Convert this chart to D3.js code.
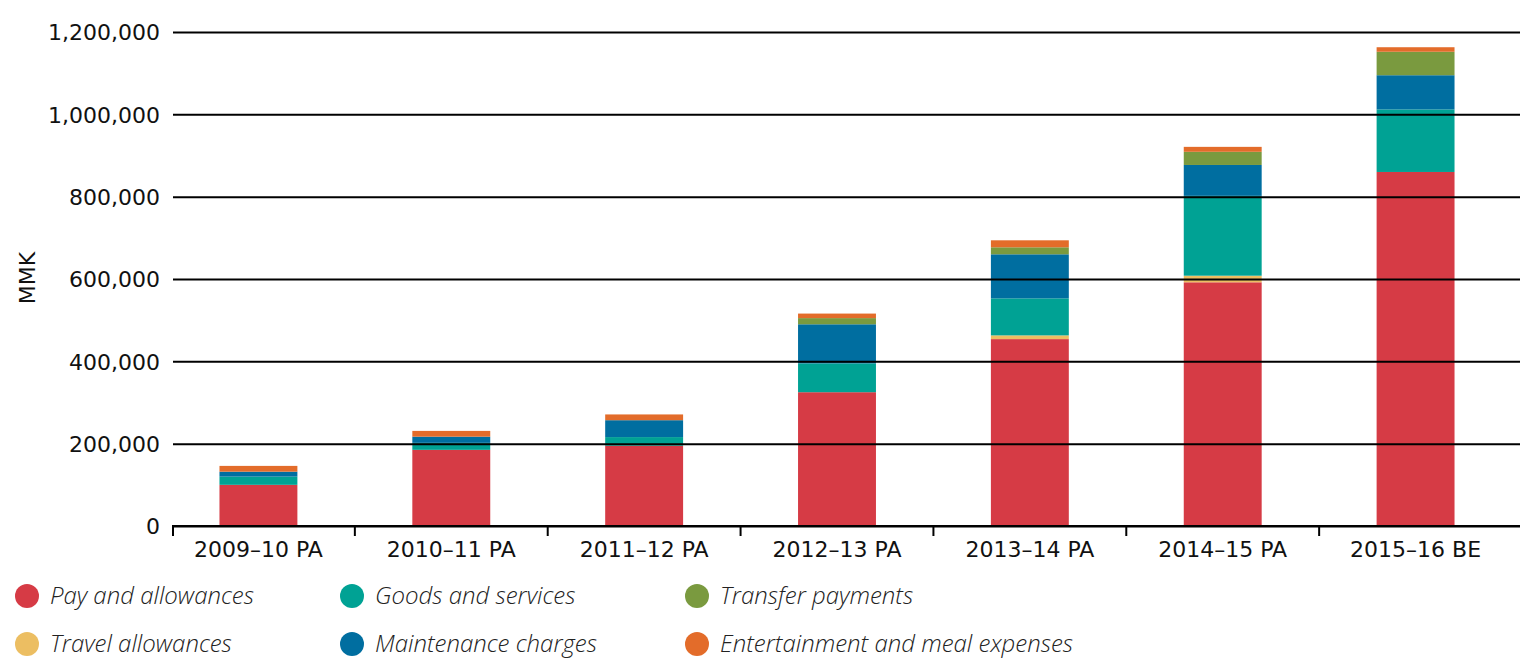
<!DOCTYPE html>
<html>
<head>
<meta charset="utf-8">
<script src="https://cdn.jsdelivr.net/npm/d3@7/dist/d3.min.js"></script>
<style>
  html, body { margin: 0; padding: 0; background: #fff; }
  svg { display: block; }
  .tick text, .axis-label { font-family: "DejaVu Sans", sans-serif; font-size: 22px; fill: #111; }
  .legend text { font-family: "Open Sans", sans-serif; font-style: italic; font-weight: 300; font-size: 24px; fill: #222; }
</style>
</head>
<body>
<svg id="chart" width="1520" height="659"></svg>
<script>
// Fiscal years and expenditure by category (MMK)
const categories = ["2009–10 PA", "2010–11 PA", "2011–12 PA", "2012–13 PA", "2013–14 PA", "2014–15 PA", "2015–16 BE"];
const payAndAllowances = [100000, 185000, 195000, 325000, 454000, 592000, 860000];
const travelAllowances = [0, 0, 0, 0, 9000, 16000, 0];
const goodsAndServices = [20000, 17000, 21000, 70000, 90000, 194000, 152000];
const maintenanceCharges = [12000, 15000, 41000, 95000, 107000, 75000, 83000];
const transferPayments = [0, 0, 0, 15000, 17000, 32000, 57000];
const entertainment = [14000, 14000, 14000, 11000, 17000, 12000, 11000];
const yTicks = [0, 200000, 400000, 600000, 800000, 1000000, 1200000];

const seriesNames = ["Pay and allowances", "Travel allowances", "Goods and services",
  "Maintenance charges", "Transfer payments", "Entertainment and meal expenses"];
const seriesValues = [payAndAllowances, travelAllowances, goodsAndServices,
  maintenanceCharges, transferPayments, entertainment];
const colors = ["#d63b45", "#ecbe62", "#00a294", "#006ea0", "#7a9a3f", "#e36c2a"];

const rows = categories.map((c, i) => {
  const r = { category: c };
  seriesNames.forEach((s, j) => r[s] = seriesValues[j][i]);
  return r;
});

const svg = d3.select("#chart");
const plotLeft = 173, plotRight = 1520, plotTop = 32, plotBottom = 526;

const x = d3.scaleBand().domain(categories).range([162, 1512])
  .paddingInner(0.596).paddingOuter(0.298);
const y = d3.scaleLinear().domain([0, 1200000]).range([plotBottom, plotTop]);
const color = d3.scaleOrdinal().domain(seriesNames).range(colors);

const stacked = d3.stack().keys(seriesNames)(rows);

// Stacked bars
svg.append("g").selectAll("g").data(stacked).join("g")
  .attr("fill", d => color(d.key))
  .selectAll("rect").data(d => d).join("rect")
  .attr("x", d => x(d.data.category))
  .attr("width", x.bandwidth())
  .attr("y", d => y(d[1]))
  .attr("height", d => y(d[0]) - y(d[1]));

// Value axis with full-width gridlines
const yAxis = svg.append("g").attr("transform", `translate(${plotLeft},0)`)
  .call(d3.axisLeft(y).tickValues(yTicks).tickFormat(d3.format(","))
    .tickSizeInner(-(plotRight - plotLeft)).tickSizeOuter(0).tickPadding(13));
yAxis.select(".domain").remove();
yAxis.selectAll(".tick line").attr("stroke", "#000").attr("stroke-width", 2);
yAxis.selectAll(".tick text").attr("dy", "0.36em");

// Category axis: baseline, boundary ticks and labels
const xAxis = svg.append("g").attr("transform", `translate(0,${plotBottom})`)
  .call(d3.axisBottom(x).tickSize(0).tickPadding(15));
xAxis.select(".domain").remove();
xAxis.selectAll(".tick text").attr("dy", "0.71em");
const step = x.step();
const boundaries = [plotLeft].concat(categories.slice(0, -1).map(c => x(c) + x.bandwidth() + (step - x.bandwidth()) / 2));
xAxis.selectAll("line.bound").data(boundaries).join("line")
  .attr("class", "bound")
  .attr("x1", d => d).attr("x2", d => d)
  .attr("y1", 0).attr("y2", 10)
  .attr("stroke", "#000").attr("stroke-width", 2);
xAxis.append("line").attr("x1", plotLeft - 1).attr("x2", plotRight)
  .attr("stroke", "#000").attr("stroke-width", 2);

// Axis title
svg.append("text").attr("class", "axis-label")
  .attr("transform", `translate(27,278) rotate(-90)`)
  .attr("text-anchor", "middle").attr("dy", "0.36em")
  .text("MMK");

// Legend
const legendCols = [27, 352, 697];
const legendRows = [596, 644];
const legendOrder = ["Pay and allowances", "Goods and services", "Transfer payments",
  "Travel allowances", "Maintenance charges", "Entertainment and meal expenses"];
const legend = svg.append("g").attr("class", "legend");
legendOrder.forEach((name, i) => {
  const cx = legendCols[i % 3], cy = legendRows[Math.floor(i / 3)];
  const g = legend.append("g").attr("transform", `translate(${cx},${cy})`);
  g.append("circle").attr("r", 12).attr("fill", color(name));
  g.append("text").attr("x", 23).attr("dy", "0.33em").text(name);
});
</script>
</body>
</html>
